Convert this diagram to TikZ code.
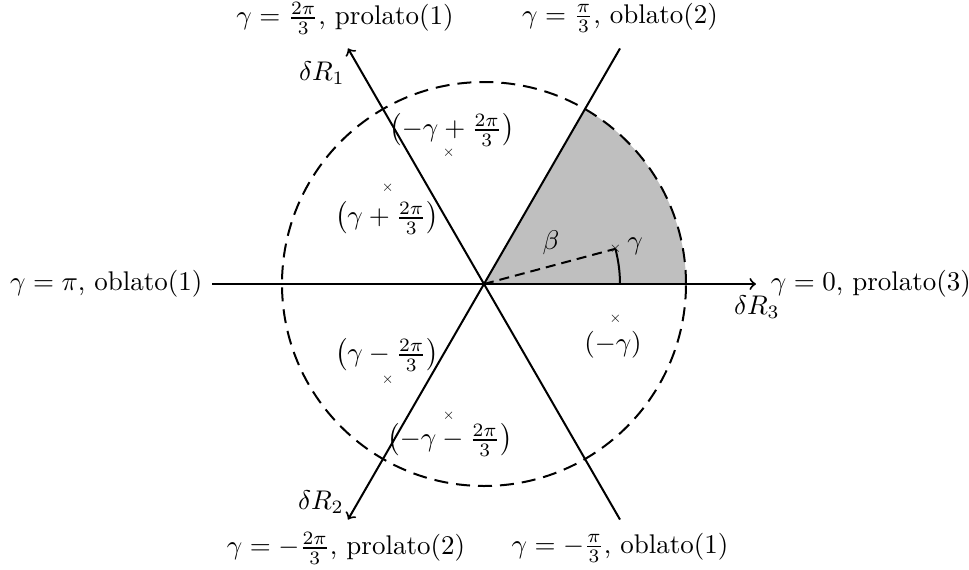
\documentclass[tikz,border=0pt]{standalone}
\begin{document}
\begin{tikzpicture}[x=0.4pt,y=0.4pt]
\tikzset{lbl/.style={scale=1.08},
  cross/.style={inner sep=0pt,scale=0.6},
  axis/.style={thick},
  ring/.style={thick,dash pattern=on 5.6pt off 3.2pt}}
\useasboundingbox (-484,-285) rectangle (485,284);
\coordinate (O) at (0,0);
\fill[gray!50] (O) -- (0:202) arc (0:60:202) -- cycle;
\draw[ring] (O) circle (202);
\foreach \a/\n in {0/e0,60/e1,120/e2,180/e3,240/e4,300/e5}
  \coordinate (\n) at (\a:272);
\draw[axis,->] (O) -- (e0);
\draw[axis] (O) -- (e1);
\draw[axis,->] (O) -- (e2);
\draw[axis] (O) -- (e3);
\draw[axis,->] (O) -- (e4);
\draw[axis] (O) -- (e5);
% gamma angle
\coordinate (g) at (15:136);
\draw[thick,dash pattern=on 4pt off 2.4pt] (O) -- (g);
\draw[thick] (0:136) arc (0:15:136);
\foreach \a/\n in {15/c1,-15/c2,105/c3,135/c4,-105/c5,-135/c6}
  \node[cross] (\n) at (\a:136) {$\times$};
\node[lbl] (beta) at (67,41) {$\beta$};
\node[lbl] (gam) at (151,38) {$\gamma$};
\node[lbl] (r1) at (-32,154) {$\left(-\gamma+\frac{2\pi}{3}\right)$};
\node[lbl] (r2) at (-97,66) {$\left(\gamma+\frac{2\pi}{3}\right)$};
\node[lbl] (r3) at (-97,-71) {$\left(\gamma-\frac{2\pi}{3}\right)$};
\node[lbl] (r4) at (-34,-156) {$\left(-\gamma-\frac{2\pi}{3}\right)$};
\node[lbl] (r5) at (129,-61) {$(-\gamma)$};
\node[lbl] (d1) at (-162,211) {$\delta R_1$};
\node[lbl] (d2) at (-163,-218) {$\delta R_2$};
\node[lbl] (d3) at (273,-23) {$\delta R_3$};
\node[lbl] (t1) at (-139,266) {$\gamma=\frac{2\pi}{3}$, prolato(1)};
\node[lbl] (t2) at (136,266) {$\gamma=\frac{\pi}{3}$, oblato(2)};
\node[lbl] (b1) at (-138,-264) {$\gamma=-\frac{2\pi}{3}$, prolato(2)};
\node[lbl] (b2) at (136,-264) {$\gamma=-\frac{\pi}{3}$, oblato(1)};
\node[lbl,anchor=east] (l1) at (e3) {$\gamma=\pi$, oblato(1)};
\node[lbl,anchor=west,xshift=2pt] (l2) at (e0) {$\gamma=0$, prolato(3)};
\end{tikzpicture}
\end{document}
